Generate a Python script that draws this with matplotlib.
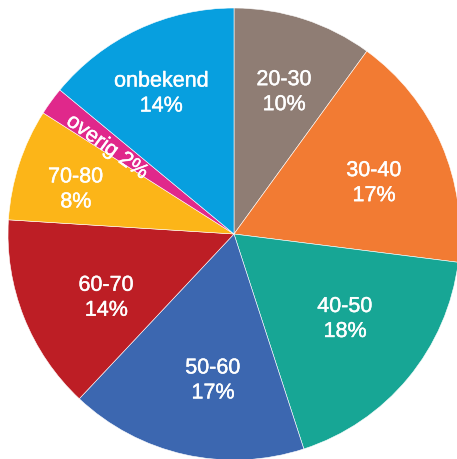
import matplotlib.pyplot as plt
import matplotlib.patheffects as pe
import numpy as np

categories = ['20-30', '30-40', '40-50', '50-60', '60-70', '70-80', 'overig', 'onbekend']
shares = [10, 17, 18, 17, 14, 8, 2, 14]
colors = ['#8F7D74', '#F27B33', '#17A695', '#3C67B0', '#BD1E25', '#FCB518', '#E0288B', '#079FDF']

plt.rcParams['font.family'] = ['Liberation Sans', 'DejaVu Sans']

fig = plt.figure(figsize=(4.57, 4.59), dpi=100)
ax = fig.add_axes([0, 0, 1, 1])

cx, cy, R = 234, 225, 226
wedges, _ = ax.pie(shares, colors=colors, startangle=90, counterclock=False,
                   center=(cx, cy), radius=R,
                   wedgeprops=dict(edgecolor='white', linewidth=0.4))

# label placement: fraction of radius and angle tweak (deg) from the wedge middle
dist = [0.674, 0.662, 0.613, 0.646, 0.628, 0.730, 0.686, 0.708]
tweak = [-1.2, -2.7, 2.8, 4.3, 4.2, 1.6, 1.0, 1.9]
stroke = [pe.withStroke(linewidth=0.3, foreground='white')]
for w, cat, s, d, t in zip(wedges, categories, shares, dist, tweak):
    mid = (w.theta1 + w.theta2) / 2
    ang = np.deg2rad(mid + t)
    x = cx + d * R * np.cos(ang)
    y = cy + d * R * np.sin(ang) - 2
    if cat == 'overig':
        ax.text(x, y, f'{cat} {s}%', ha='center', va='center', color='white',
                fontsize=15.5, rotation=mid - 180, rotation_mode='anchor',
                path_effects=stroke)
    else:
        ax.text(x, y, f'{cat}\n{s}%', ha='center', va='center', color='white',
                fontsize=15.5, linespacing=1.25, path_effects=stroke)

ax.set_xlim(0, 457)
ax.set_ylim(0, 459)
ax.set_aspect('equal')
ax.axis('off')

fig.savefig('out.png', dpi=100)
